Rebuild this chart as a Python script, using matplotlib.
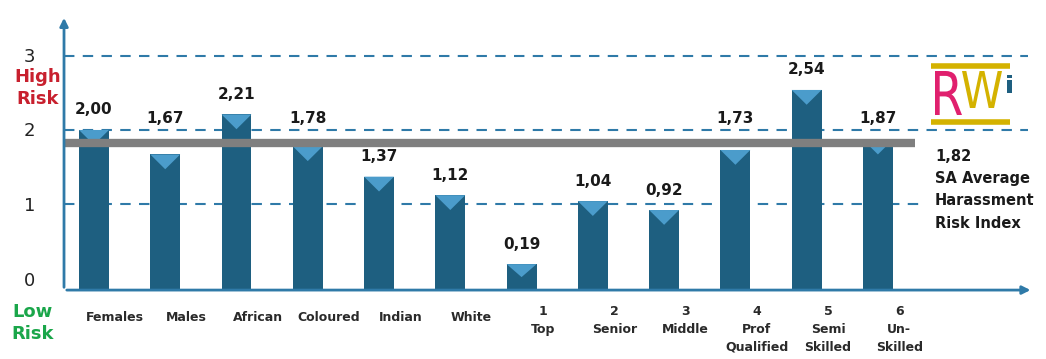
import numpy as np
import matplotlib
matplotlib.use("Agg")
import matplotlib.pyplot as plt
from matplotlib.patches import Polygon, PathPatch
from matplotlib.textpath import TextPath
from matplotlib.font_manager import FontProperties
from matplotlib.transforms import Affine2D

# data
categories = ["Females", "Males", "African", "Coloured", "Indian", "White",
              "1\nTop", "2\nSenior", "3\nMiddle", "4\nProf\nQualified",
              "5\nSemi\nSkilled", "6\nUn-\nSkilled"]
values = [2.00, 1.67, 2.21, 1.78, 1.37, 1.12, 0.19, 1.04, 0.92, 1.73, 2.54, 1.87]
sa_average = 1.82
y_ticks = [0, 1, 2, 3]

bar_color = "#1e5f80"
top_color = "#4b9ccb"
axis_color = "#2f7aa8"
base = -0.16
w = 0.42

W_PX, H_PX = 1046, 359

plt.rcParams["font.family"] = ["DejaVu Sans"]
fig = plt.figure(figsize=(10.46, 3.59), dpi=100)
ax = fig.add_axes([0.0612, 0.192, 0.928, 0.766])

x = np.arange(len(values))
vals = np.array(values)
ax.bar(x, vals - base, bottom=base, width=w, color=bar_color, zorder=3)
for xi, v in zip(x, vals):
    d = min(0.2, (v - base) * 0.5)
    ax.add_patch(Polygon([(xi - w / 2, v), (xi + w / 2, v), (xi, v - d)],
                         closed=True, color=top_color, zorder=4, lw=0))
    ly = v + 0.27
    if 1.65 < ly < 2.15:
        ly = 2.15  # keep labels clear of the average line
    ax.text(xi, ly, f"{v:.2f}".replace(".", ","), ha="center", va="center",
            fontsize=11, fontweight="bold", color="#1a1a1a", zorder=5)

# dashed gridlines (the one at 1 stops before the side note)
for t in y_ticks[1:]:
    x_end = 11.62 if t == 1 else 13.1
    ax.plot([-0.42, x_end], [t, t], ls=(0, (5, 4)), color=axis_color, lw=1.5,
            zorder=1)

# average line
ax.plot([-0.42, 11.52], [sa_average, sa_average], color="#7f7f7f", lw=6,
        solid_capstyle="butt", zorder=6)

ax.set_xlim(-0.42, 13.2)
ax.set_ylim(base, 3.55)
for s in ax.spines.values():
    s.set_visible(False)
ax.set_xticks([])
ax.set_yticks([])

# axes with arrows
ax.annotate("", xy=(13.18, base), xytext=(-0.42, base),
            arrowprops=dict(arrowstyle="-|>", color=axis_color, lw=2,
                            mutation_scale=12), annotation_clip=False, zorder=7)
ax.annotate("", xy=(-0.42, 3.55), xytext=(-0.42, base),
            arrowprops=dict(arrowstyle="-|>", color=axis_color, lw=2,
                            mutation_scale=12), annotation_clip=False, zorder=7)

# y labels
for t in y_ticks:
    ax.text(-0.9, t - (0.04 if t == 0 else 0.02), str(t), ha="center",
            va="center", fontsize=13, color="#222222")
fig.text(38 / W_PX, 1 - 88 / H_PX, "High\nRisk", ha="center", va="center",
         fontsize=13, fontweight="bold", color="#c8202e", linespacing=1.3)
fig.text(33 / W_PX, 1 - 323 / H_PX, "Low\nRisk", ha="center", va="center",
         fontsize=13, fontweight="bold", color="#1aa64a", linespacing=1.3)

# category labels
for xi, c in zip(x, categories):
    ax.annotate(c, (xi + 0.3, base), xytext=(0, -10.5 if "\n" in c else -15),
                textcoords="offset points", ha="center", va="top", fontsize=9,
                fontweight="bold", color="#2a2a2a", linespacing=1.5,
                annotation_clip=False)

# side annotation
fig.text(935 / W_PX, 1 - 149 / H_PX, "1,82\nSA Average\nHarassment\nRisk Index",
         ha="left", va="top", fontsize=10.5, fontweight="bold", color="#1a1a1a",
         linespacing=1.6)

# logo (drawn in its own pixel-unit axes)
lax = fig.add_axes([920 / W_PX, 1 - 126 / H_PX, 95 / W_PX, 64 / H_PX])
lax.set_xlim(0, 95)
lax.set_ylim(0, 64)
lax.axis("off")


def fit_text(a, s, box, color, weight="normal"):
    tp = TextPath((0, 0), s, size=1, prop=FontProperties(family="DejaVu Sans",
                                                         weight=weight))
    ext = tp.get_extents()
    x0, y0, x1, y1 = box
    tr = (Affine2D().translate(-ext.x0, -ext.y0)
          .scale((x1 - x0) / ext.width, (y1 - y0) / ext.height)
          .translate(x0, y0))
    a.add_patch(PathPatch(tr.transform_path(tp), color=color, lw=0))


lax.plot([11, 90], [60, 60], color="#d4b200", lw=4, solid_capstyle="butt")
lax.plot([11, 90], [4, 4], color="#d4b200", lw=4, solid_capstyle="butt")
fit_text(lax, "R", (15, 11, 42, 55), "#e0206e")
fit_text(lax, "W", (42, 18, 82, 55), "#d4b200")
fit_text(lax, "i", (87, 33, 92, 51), "#1e5f80", "bold")

fig.savefig("out.png", dpi=100)
